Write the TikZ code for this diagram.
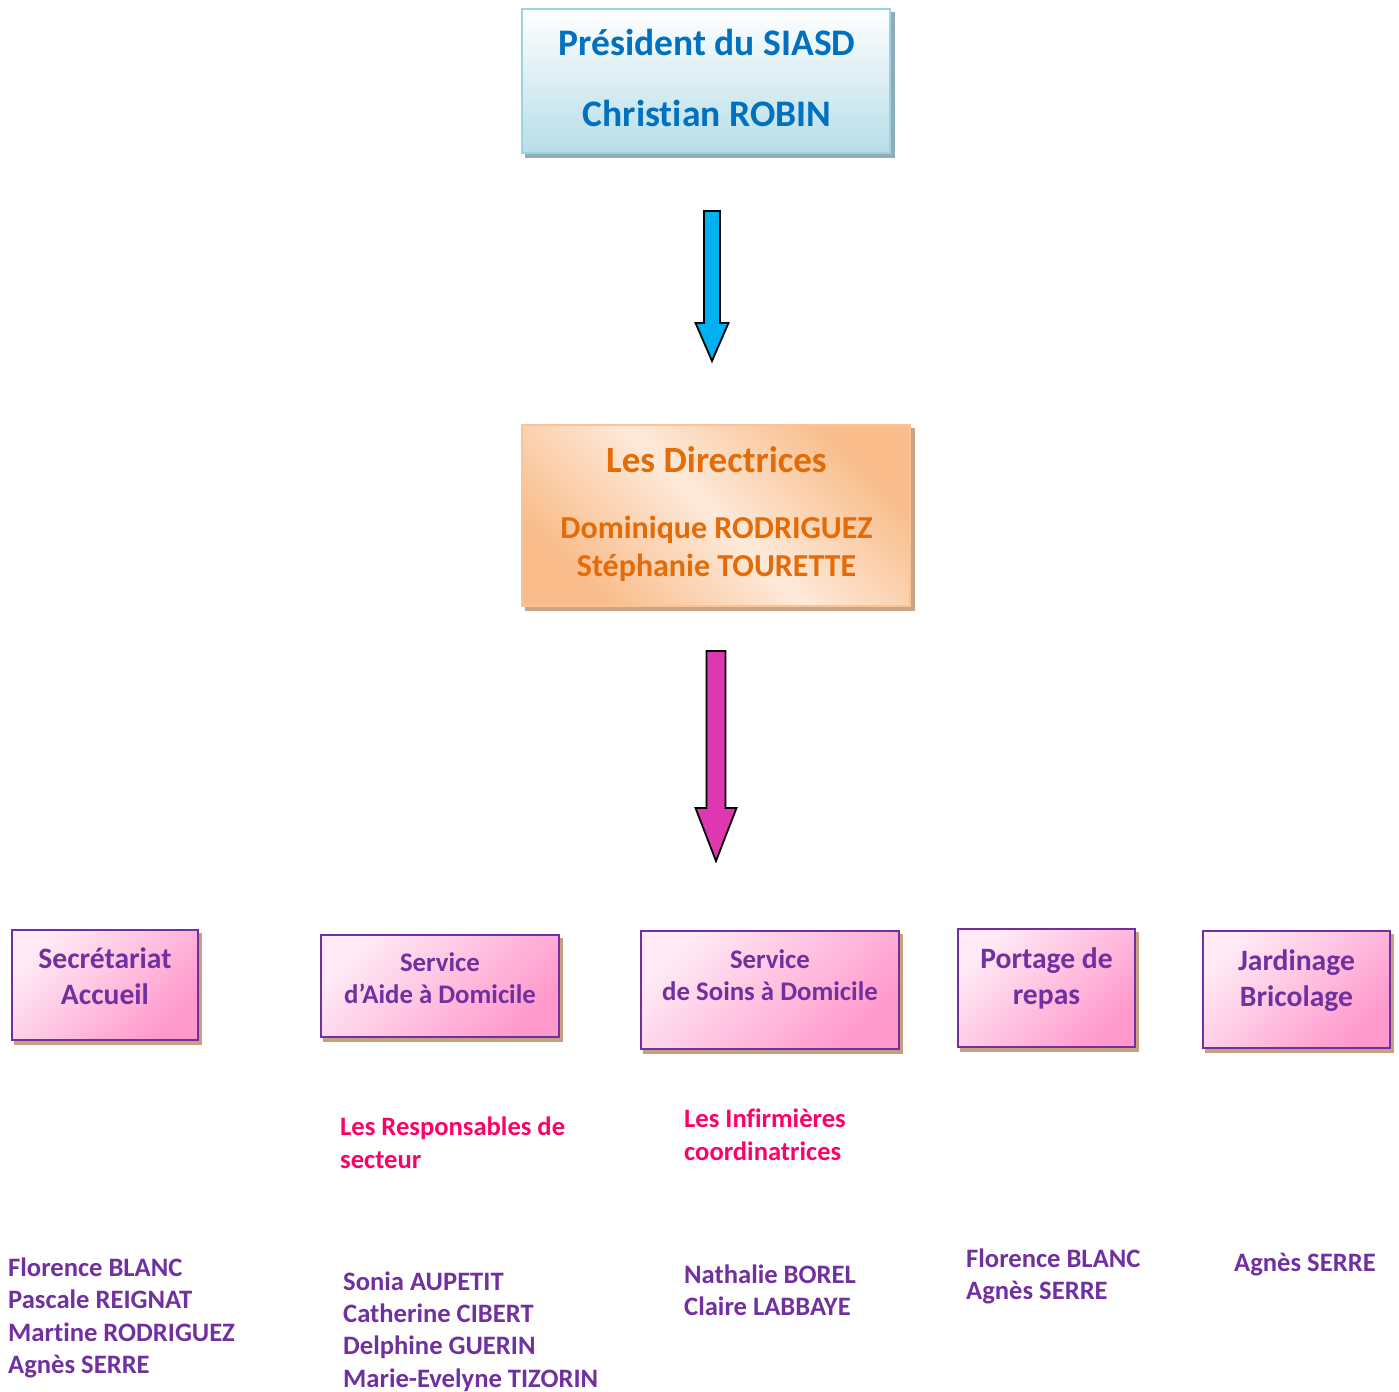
\documentclass[tikz,border=0pt]{standalone}
\usepackage{fontspec}
\setmainfont{Carlito}[Ligatures=NoCommon]
\usetikzlibrary{backgrounds}
\definecolor{presblue}{HTML}{0070C0}
\definecolor{presbot}{HTML}{B7DDE8}
\definecolor{presborder}{HTML}{9DD3E0}
\definecolor{presshadow}{HTML}{8FADB8}
\definecolor{dirtext}{HTML}{E36C09}
\definecolor{dirdark}{HTML}{F9BC8A}
\definecolor{dirlight}{HTML}{FDEADA}
\definecolor{dirborder}{HTML}{F9C497}
\definecolor{dirshadow}{HTML}{C9A488}
\definecolor{purp}{HTML}{7030A0}
\definecolor{pinklight}{HTML}{FFEAF5}
\definecolor{pinkdark}{HTML}{FF99CC}
\definecolor{pinkshadow}{HTML}{C9A07F}
\definecolor{redpink}{HTML}{FF0066}
\definecolor{arrowblue}{HTML}{00B0F0}
\definecolor{arrowmag}{HTML}{DE38B0}
\begin{document}
\begin{tikzpicture}[x=1pt,y=-1pt,
  presbox/.style={rectangle, draw=presborder, line width=2, top color=white, bottom color=presbot, inner sep=0},
  dirbox/.style={rectangle, draw=dirborder, line width=2, top color=dirdark, bottom color=dirdark, middle color=dirlight, shading angle=-45, inner sep=0},
  pbox/.style={rectangle, draw=purp, line width=2.5, top color=pinklight, bottom color=pinkdark, shading angle=45, inner sep=0},
  boxtext/.style={inner sep=0, align=center, anchor=north, font=\bfseries\fontsize{26.8}{32}\selectfont, text=purp},
  bigbox/.style={boxtext, font=\bfseries\fontsize{29.6}{36}\selectfont},
  names/.style={inner sep=0, align=left, anchor=north west, font=\bfseries\fontsize{26.6}{32.2}\selectfont, text=purp},
  roles/.style={inner sep=0, align=left, anchor=north west, font=\bfseries\fontsize{26.6}{33}\selectfont, text=redpink},
  blockarrow/.style={draw=black, line width=1.8, line join=miter}
]
\useasboundingbox (0,0) rectangle (1399,1391);

% top boxes
\node[presbox, minimum width=368, minimum height=144] (pres) at (706,81) {};
\node[inner sep=0, align=center, anchor=north, text=presblue, font=\bfseries\fontsize{37.5}{71}\selectfont] (prestext) at (707,5.3) {\strut Président du SIASD\\Christian ROBIN};

\node[dirbox, minimum width=388, minimum height=181] (dir) at (716,515.5) {};
\node[inner sep=0, anchor=base, text=dirtext, font=\bfseries\fontsize{37}{44}\selectfont] (dirtitle) at (716.5,472) {Les Directrices};
\node[inner sep=0, align=center, anchor=north, text=dirtext, font=\bfseries\fontsize{32}{38.5}\selectfont] (dirnames) at (716.5,511) {\strut Dominique RODRIGUEZ\\Stéphanie TOURETTE};

% block arrows
\path[blockarrow, fill=arrowblue] (704,211) -- (720,211) -- (720,323) -- (728.5,323) -- (712,361) -- (695.5,323) -- (704,323) -- cycle;
\path[blockarrow, fill=arrowmag] (706.5,651) -- (725.5,651) -- (725.5,808) -- (736.5,808) -- (716,861) -- (695.5,808) -- (706.5,808) -- cycle;

% service boxes
\node[pbox, minimum width=186, minimum height=110] (b1) at (105,985) {};
\node[pbox, minimum width=238, minimum height=102] (b2) at (440,986) {};
\node[pbox, minimum width=258, minimum height=118] (b3) at (770,990) {};
\node[pbox, minimum width=177, minimum height=118] (b4) at (1046.5,988) {};
\node[pbox, minimum width=187, minimum height=117] (b5) at (1296.5,989.5) {};

\node[bigbox] (b1t) at (105,942.8) {\strut Secrétariat\\Accueil};
\node[boxtext] (b2t) at (440,948.9) {\strut Service\\d’Aide à Domicile};
\node[boxtext] (b3t) at (770,945.9) {\strut Service\\de Soins à Domicile};
\node[bigbox] (b4t) at (1046.5,943.1) {\strut Portage de\\repas};
\node[bigbox] (b5t) at (1296.5,945.1) {\strut Jardinage\\Bricolage};

% shadows
\begin{scope}[on background layer]
  \fill[presshadow] ([shift={(4,4)}]pres.south west) rectangle ([shift={(4,4)}]pres.north east);
  \fill[dirshadow] ([shift={(4,4)}]dir.south west) rectangle ([shift={(4,4)}]dir.north east);
  \foreach \b in {b1,b2,b3,b4,b5}
    \fill[pinkshadow] ([shift={(3,4)}]\b.south west) rectangle ([shift={(3,4)}]\b.north east);
\end{scope}

% roles
\node[roles] (resp) at (340,1112.5) {\strut Les Responsables de\\secteur};
\node[roles] (infi) at (684,1104.5) {\strut Les Infirmières\\coordinatrices};

% names
\node[names] (n1) at (8,1253.9) {\strut Florence BLANC\\Pascale REIGNAT\\Martine RODRIGUEZ\\Agnès SERRE};
\node[names] (n2) at (343,1267.7) {\strut Sonia AUPETIT\\Catherine CIBERT\\Delphine GUERIN\\Marie-Evelyne TIZORIN};
\node[names] (n3) at (684,1260.9) {\strut Nathalie BOREL\\Claire LABBAYE};
\node[names] (n4) at (966,1244.9) {\strut Florence BLANC\\Agnès SERRE};
\node[inner sep=0, anchor=base west, font=\bfseries\fontsize{26.6}{32}\selectfont, text=purp] (n5) at (1234,1271.3) {Agnès SERRE};
\end{tikzpicture}
\end{document}
